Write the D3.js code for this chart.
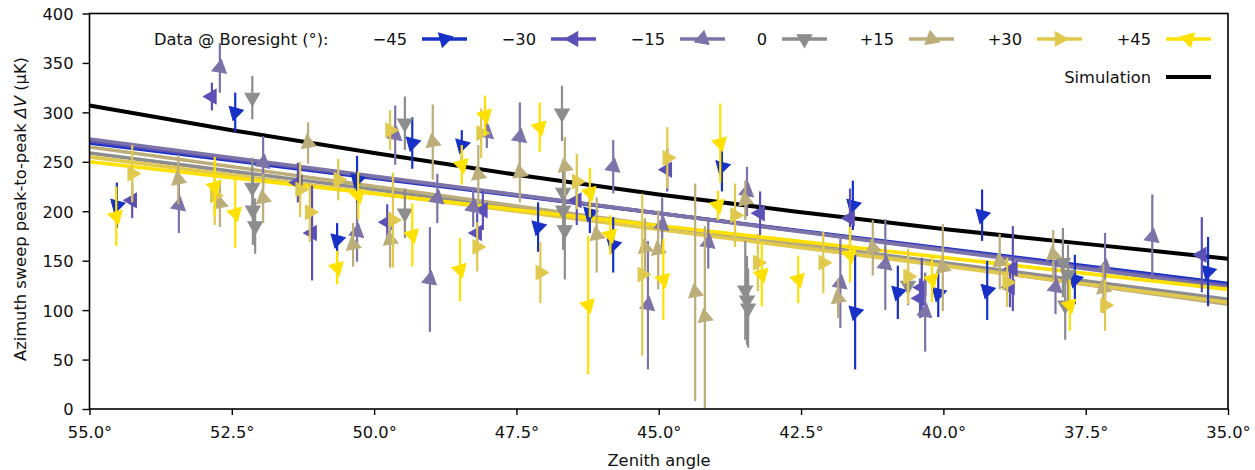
<!DOCTYPE html>
<html><head><meta charset="utf-8">
<script src="https://cdn.jsdelivr.net/npm/d3@7"></script>
<style>
body{margin:0;background:#fff}
svg{display:block}
text{font-family:"DejaVu Sans", sans-serif;fill:#111}
</style>
</head><body>
<svg id="c" width="1255" height="470"></svg>
<script>
// ---------- DATA ----------
const zenithTicks = [55, 52.5, 50, 47.5, 45, 42.5, 40, 37.5, 35];
const valueTicks = [0, 50, 100, 150, 200, 250, 300, 350, 400];
const boresights = ["\u221245", "\u221230", "\u221215", "0", "+15", "+30", "+45"];
const colors = ["#1730c6", "#5a50b6", "#7c73a8", "#8d8d8d", "#bcae7a", "#e1c94e", "#ffe100"];
const markerRot = [75, 30, 10, 60, -10, 90, 45];

// [zenith, value, error]
const dataM45 = [[54.52,206,23],[52.44,300,20],[50.65,171,17],[50.30,232,24],[49.33,269,26],[48.46,267,15],
  [47.12,184,25],[46.21,198,20],[45.80,166,28],[43.89,245,25],[41.59,206,25],[41.55,98,58],[40.80,118,27],
  [40.09,117,24],[39.32,196,26],[39.23,120,30],[37.69,131,25],[35.35,139,35]];
const dataM30 = [[54.25,211,18],[52.85,316,14],[51.34,229,20],[51.09,178,48],[49.77,189,18],[48.19,178,20],
  [48.09,201,20],[46.44,211,25],[44.85,242,22],[43.22,198,22],[41.64,193,30],[40.38,123,30],[40.41,112,20],
  [38.78,142,43],[38.83,123,20],[35.46,156,38]];
const dataM15 = [[53.43,206,28],[52.71,345,25],[51.95,249,27],[50.30,179,30],[49.63,277,30],[48.89,213,25],
  [49.02,131,53],[48.26,204,20],[48.02,279,15],[47.44,275,35],[45.80,245,27],[45.19,105,65],[44.94,186,28],
  [44.13,168,26],[43.45,220,25],[41.81,127,45],[41.02,146,46],[40.32,98,40],[38.03,123,27],[37.16,143,35],[36.33,174,43]];
const data0 = [[52.14,224,30],[52.13,201,35],[52.09,185,28],[52.14,315,22],[49.46,289,27],[49.46,198,25],
  [46.70,299,28],[46.68,219,30],[46.68,201,40],[46.65,181,50],[43.48,120,50],[43.45,110,45],[43.43,102,40],
  [40.62,125,20],[37.90,148,35],[37.81,136,30],[37.86,105,35]];
const dataP15 = [[53.44,232,25],[52.71,208,24],[51.95,213,25],[51.16,269,21],[50.37,166,22],[49.72,171,28],
  [48.97,270,38],[48.17,237,30],[47.44,239,30],[46.65,245,30],[46.09,176,38],[45.24,163,30],[45.01,161,40],
  [44.36,118,110],[44.19,93,92],[43.48,211,20],[41.85,112,20],[41.24,163,28],[40.01,143,44],[39.01,149,28],
  [38.07,156,25],[37.19,122,25]];
const dataP30 = [[54.25,238,29],[52.80,216,30],[51.30,222,28],[51.13,199,30],[50.63,232,21],[49.72,282,20],
  [49.67,191,48],[48.12,279,25],[48.19,164,25],[47.08,138,31],[46.44,230,28],[45.29,136,82],[44.85,254,31],
  [43.66,196,32],[43.26,148,29],[42.11,148,31],[40.62,134,28],[38.88,128,25],[37.16,105,26]];
const dataP45 = [[54.53,195,30],[52.80,225,30],[52.44,198,35],[50.65,143,17],[50.28,216,24],[49.33,176,32],
  [48.49,141,32],[48.46,247,20],[48.05,297,20],[47.09,285,25],[46.21,219,25],[46.24,105,70],[45.85,176,20],
  [44.92,131,41],[43.96,206,15],[43.92,269,40],[43.19,136,32],[42.55,131,24],[41.64,156,28],[40.20,131,23],[37.78,105,26]];
const seriesData = [dataM45, dataM30, dataM15, data0, dataP15, dataP30, dataP45];

// fitted lines: value at 55° and at 35°
const fitEnds = [[269,127],[271,125],[273,123],[259,111],[265,106],[255,108],[250,121]];
// simulation curve samples
const simZenith = [55, 52.5, 50, 47.5, 45, 42.5, 40, 37.5, 35];
const simValue  = [307, 282, 259, 237, 217, 199, 182, 167, 152];

// ---------- LAYOUT ----------
const svg = d3.select("#c");
const x = d3.scaleLinear().domain([55, 35]).range([89.5, 1228]);
const y = d3.scaleLinear().domain([0, 400]).range([409, 13.5]);
const FS = 16.3;

function starPath(R) {
  const r = R * 0.5, pts = [];
  for (let i = 0; i < 6; i++) {
    const a = -Math.PI / 2 + i * Math.PI / 3;
    const rad = i % 2 === 0 ? R : r;
    pts.push([rad * Math.cos(a), rad * Math.sin(a)]);
  }
  return "M" + pts.map(p => p[0].toFixed(2) + "," + p[1].toFixed(2)).join("L") + "Z";
}
const star = starPath(8.5);

const plot = svg.append("g");
const line = d3.line().x(d => x(d[0])).y(d => y(d[1]));

// fit lines
seriesData.forEach((s, i) => {
  plot.append("path")
    .attr("d", line([[55, fitEnds[i][0]], [35, fitEnds[i][1]]]))
    .attr("fill", "none").attr("stroke", colors[i]).attr("stroke-width", 3.6);
});
// simulation
plot.append("path")
  .attr("d", d3.line().x(d => x(d[0])).y(d => y(d[1])).curve(d3.curveMonotoneX)(simZenith.map((z, k) => [z, simValue[k]])))
  .attr("fill", "none").attr("stroke", "#000").attr("stroke-width", 4);

// data points
seriesData.forEach((s, i) => {
  const g = plot.append("g");
  g.selectAll("line").data(s).join("line")
    .attr("x1", d => x(d[0])).attr("x2", d => x(d[0]))
    .attr("y1", d => y(Math.max(0, d[1] - d[2]))).attr("y2", d => y(d[1] + d[2]))
    .attr("stroke", colors[i]).attr("stroke-width", 2.2);
  g.selectAll("path").data(s).join("path")
    .attr("d", star)
    .attr("transform", d => `translate(${x(d[0])},${y(d[1])}) rotate(${markerRot[i]})`)
    .attr("fill", colors[i]).attr("stroke", colors[i]).attr("stroke-width", 1);
});

// axes
const xAxis = svg.append("g").attr("transform", "translate(0,409)")
  .call(d3.axisBottom(x).tickValues(zenithTicks).tickFormat(d => d.toFixed(1) + "\u00b0").tickSize(6).tickSizeOuter(0).tickPadding(11));
const yAxis = svg.append("g").attr("transform", "translate(89.5,0)")
  .call(d3.axisLeft(y).tickValues(valueTicks).tickFormat(d => d).tickSize(7).tickSizeOuter(0).tickPadding(9));
[xAxis, yAxis].forEach(a => {
  a.selectAll("text").attr("font-size", FS).style("font-family", "'DejaVu Sans', sans-serif").attr("fill", "#111");
  a.selectAll("line").attr("stroke", "#000").attr("stroke-width", 1.4);
  a.select(".domain").remove();
});
yAxis.selectAll("text").attr("dy", "0.36em");
svg.append("rect").attr("x", 89.5).attr("y", 13.5).attr("width", 1228 - 89.5).attr("height", 409 - 13.5)
  .attr("fill", "none").attr("stroke", "#000").attr("stroke-width", 1.6);

// axis labels
svg.append("text").attr("x", 659).attr("y", 466).attr("text-anchor", "middle").attr("font-size", FS).text("Zenith angle");
const yl = svg.append("text").attr("transform", "translate(26,209) rotate(-90)").attr("text-anchor", "middle").attr("font-size", FS);
yl.append("tspan").text("Azimuth sweep peak-to-peak ");
yl.append("tspan").attr("font-style", "italic").text("\u0394V");
yl.append("tspan").text(" (\u03bcK)");

// legend
const legY = 39;
svg.append("text").attr("x", 154).attr("y", legY + 6).attr("font-size", FS).text("Data @ Boresight (\u00b0):");
const lineStarts = [422, 551, 680, 782, 909, 1037, 1166];
boresights.forEach((b, i) => {
  const x0 = lineStarts[i];
  svg.append("text").attr("x", x0 - 15).attr("y", legY + 6).attr("text-anchor", "end").attr("font-size", FS).text(b);
  svg.append("line").attr("x1", x0).attr("x2", x0 + 45).attr("y1", legY).attr("y2", legY)
    .attr("stroke", colors[i]).attr("stroke-width", 3.6);
  svg.append("path").attr("d", star).attr("transform", `translate(${x0 + 22.5},${legY}) rotate(${markerRot[i]})`)
    .attr("fill", colors[i]).attr("stroke", colors[i]);
});
svg.append("text").attr("x", 1151).attr("y", 83).attr("text-anchor", "end").attr("font-size", FS).text("Simulation");
svg.append("line").attr("x1", 1166).attr("x2", 1211).attr("y1", 77).attr("y2", 77).attr("stroke", "#000").attr("stroke-width", 4);
</script>
</body></html>
